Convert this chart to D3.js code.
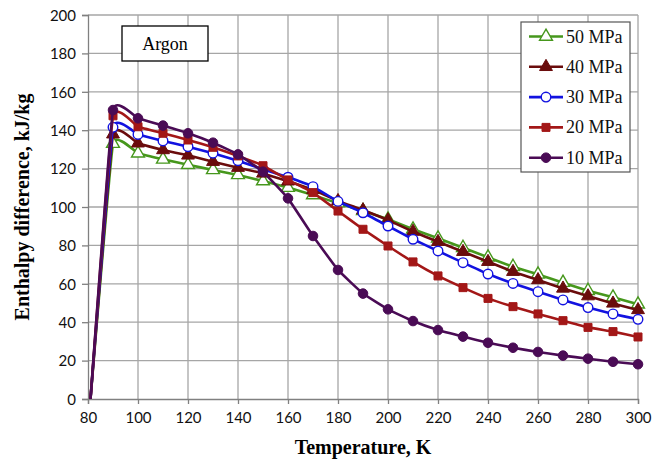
<!DOCTYPE html>
<html>
<head>
<meta charset="utf-8">
<script src="https://cdn.jsdelivr.net/npm/d3@7"></script>
<style>
  html, body { margin: 0; padding: 0; background: #fff; }
  svg { display: block; }
</style>
</head>
<body>
<svg id="chart" width="668" height="462"></svg>
<script>
// ---- data ----
const temperatures = [81, 90, 100, 110, 120, 130, 140, 150, 160, 170, 180, 190, 200,
                      210, 220, 230, 240, 250, 260, 270, 280, 290, 300];
const seriesNames = ["50 MPa", "40 MPa", "30 MPa", "20 MPa", "10 MPa"];
const values50 = [0, 133.0, 128.0, 124.8, 122.0, 119.3, 116.7, 113.5, 110.1, 106.2, 102.0, 98.0, 93.6,
                  88.4, 83.7, 78.8, 73.8, 68.9, 64.9, 60.6, 56.4, 53.0, 49.3];
const values40 = [0, 137.9, 133.2, 129.7, 126.9, 123.6, 120.5, 117.5, 113.4, 108.9, 103.2, 98.4, 93.2,
                  87.2, 81.9, 76.7, 71.5, 66.3, 62.0, 57.6, 53.6, 49.8, 46.4];
const values30 = [0, 141.5, 137.8, 134.4, 131.4, 128.0, 124.1, 119.6, 115.5, 110.6, 102.9, 97.0, 90.1,
                  83.2, 77.1, 71.0, 65.1, 60.2, 55.9, 51.6, 47.6, 44.3, 41.5];
const values20 = [0, 147.5, 141.8, 138.4, 134.9, 131.1, 126.6, 121.5, 114.1, 107.5, 97.9, 88.4, 79.7,
                  71.4, 64.1, 58.0, 52.4, 48.1, 44.3, 40.8, 37.3, 35.1, 32.3];
const values10 = [0, 150.5, 146.2, 142.4, 138.4, 133.5, 127.4, 118.4, 104.5, 84.9, 67.2, 54.9, 46.7,
                  40.6, 35.9, 32.5, 29.3, 26.7, 24.5, 22.6, 21.0, 19.4, 18.1];
const xTicks = [80, 100, 120, 140, 160, 180, 200, 220, 240, 260, 280, 300];
const yTicks = [0, 20, 40, 60, 80, 100, 120, 140, 160, 180, 200];
const xTitle = "Temperature, K";
const yTitle = "Enthalpy difference, kJ/kg";
const noteText = "Argon";

// ---- styles ----
const styles = [
  { color: "#46971c", marker: "triangle", open: true },
  { color: "#6a0c0c", marker: "triangle", open: false },
  { color: "#1212e0", marker: "circle",   open: true },
  { color: "#a31717", marker: "square",   open: false },
  { color: "#4a0b55", marker: "circle",   open: false }
];
const allValues = [values50, values40, values30, values20, values10];

const svg = d3.select("#chart");
const margin = { left: 88, right: 30, top: 15, bottom: 63 };
const W = 668, H = 462;
const x = d3.scaleLinear().domain([80, 300]).range([margin.left, W - margin.right]);
const y = d3.scaleLinear().domain([0, 200]).range([H - margin.bottom, margin.top]);

const tickFont = "Lato, 'Open Sans', sans-serif";
const serif = "'Liberation Serif', 'Times New Roman', serif";

// gridlines
const grid = svg.append("g");
grid.selectAll("line.v").data(xTicks.slice(1)).enter().append("line")
  .attr("x1", d => x(d)).attr("x2", d => x(d))
  .attr("y1", y(0)).attr("y2", y(200))
  .attr("stroke", "#a6a6a6").attr("stroke-width", 1.3);
grid.selectAll("line.h").data(yTicks.slice(1)).enter().append("line")
  .attr("x1", x(80)).attr("x2", x(300))
  .attr("y1", d => y(d)).attr("y2", d => y(d))
  .attr("stroke", "#a6a6a6").attr("stroke-width", 1.3);

// axes
const xAxis = d3.axisBottom(x).tickValues(xTicks).tickSizeOuter(0).tickSize(5).tickPadding(8);
const yAxis = d3.axisLeft(y).tickValues(yTicks).tickSizeOuter(0).tickSize(6).tickPadding(6);
const gx = svg.append("g").attr("transform", `translate(0,${y(0)})`).call(xAxis);
const gy = svg.append("g").attr("transform", `translate(${x(80)},0)`).call(yAxis);
[gx, gy].forEach(g => {
  g.select(".domain").attr("stroke", "#808080").attr("stroke-width", 1.3);
  g.selectAll(".tick line").attr("stroke", "#808080").attr("stroke-width", 1.3);
  g.selectAll(".tick text").attr("font-family", tickFont).attr("font-size", 15).attr("fill", "#111");
});
gy.selectAll(".tick text").attr("dy", "0.35em");

// lines
const line = d3.line()
  .x((d, i) => x(temperatures[i]))
  .y(d => y(d))
  .curve(d3.curveCardinal.tension(0.7));

const tri = d3.symbol().type(d3.symbolTriangle).size(72);
const sq = d3.symbol().type(d3.symbolSquare).size(64);
const circ = d3.symbol().type(d3.symbolCircle).size(72);
function markerPath(m) { return m === "triangle" ? tri() : (m === "square" ? sq() : circ()); }

allValues.forEach((vals, si) => {
  const st = styles[si];
  const g = svg.append("g");
  g.append("path").datum(vals)
    .attr("d", line)
    .attr("fill", "none")
    .attr("stroke", st.color)
    .attr("stroke-width", 2.6)
    .attr("stroke-linejoin", "round");
  g.selectAll("path.m").data(vals.slice(1)).enter().append("path")
    .attr("class", "m")
    .attr("d", markerPath(st.marker))
    .attr("transform", (d, i) => `translate(${x(temperatures[i + 1])},${y(d)})`)
    .attr("fill", st.open ? "#fff" : st.color)
    .attr("stroke", st.color)
    .attr("stroke-width", st.open ? 1.4 : 1);
});

// note box
const note = svg.append("g");
note.append("rect").attr("x", 122).attr("y", 26).attr("width", 86).attr("height", 35)
  .attr("fill", "#fff").attr("stroke", "#000").attr("stroke-width", 1.3);
note.append("text").attr("x", 165).attr("y", 49.5).attr("text-anchor", "middle")
  .attr("font-family", serif).attr("font-size", 18).text(noteText);

// legend
const leg = svg.append("g");
leg.append("rect").attr("x", 521).attr("y", 22).attr("width", 109).attr("height", 150)
  .attr("fill", "#fff").attr("stroke", "#555").attr("stroke-width", 1.2);
seriesNames.forEach((name, i) => {
  const st = styles[i];
  const cy = 36.5 + i * 30.3;
  leg.append("line").attr("x1", 529).attr("x2", 563).attr("y1", cy).attr("y2", cy)
    .attr("stroke", st.color).attr("stroke-width", 2.6);
  leg.append("path").attr("d", markerPath(st.marker))
    .attr("transform", `translate(546,${cy})`)
    .attr("fill", st.open ? "#fff" : st.color)
    .attr("stroke", st.color).attr("stroke-width", st.open ? 1.4 : 1);
  leg.append("text").attr("x", 566).attr("y", cy + 6)
    .attr("font-family", serif).attr("font-size", 18).attr("fill", "#111").text(name);
});

// axis titles
svg.append("text").attr("x", x(190)).attr("y", 454).attr("text-anchor", "middle")
  .attr("font-family", serif).attr("font-weight", "bold").attr("font-size", 20).text(xTitle);
svg.append("text").attr("transform", `translate(29,${207}) rotate(-90)`).attr("text-anchor", "middle")
  .attr("font-family", serif).attr("font-weight", "bold").attr("font-size", 20).text(yTitle);
</script>
</body>
</html>
